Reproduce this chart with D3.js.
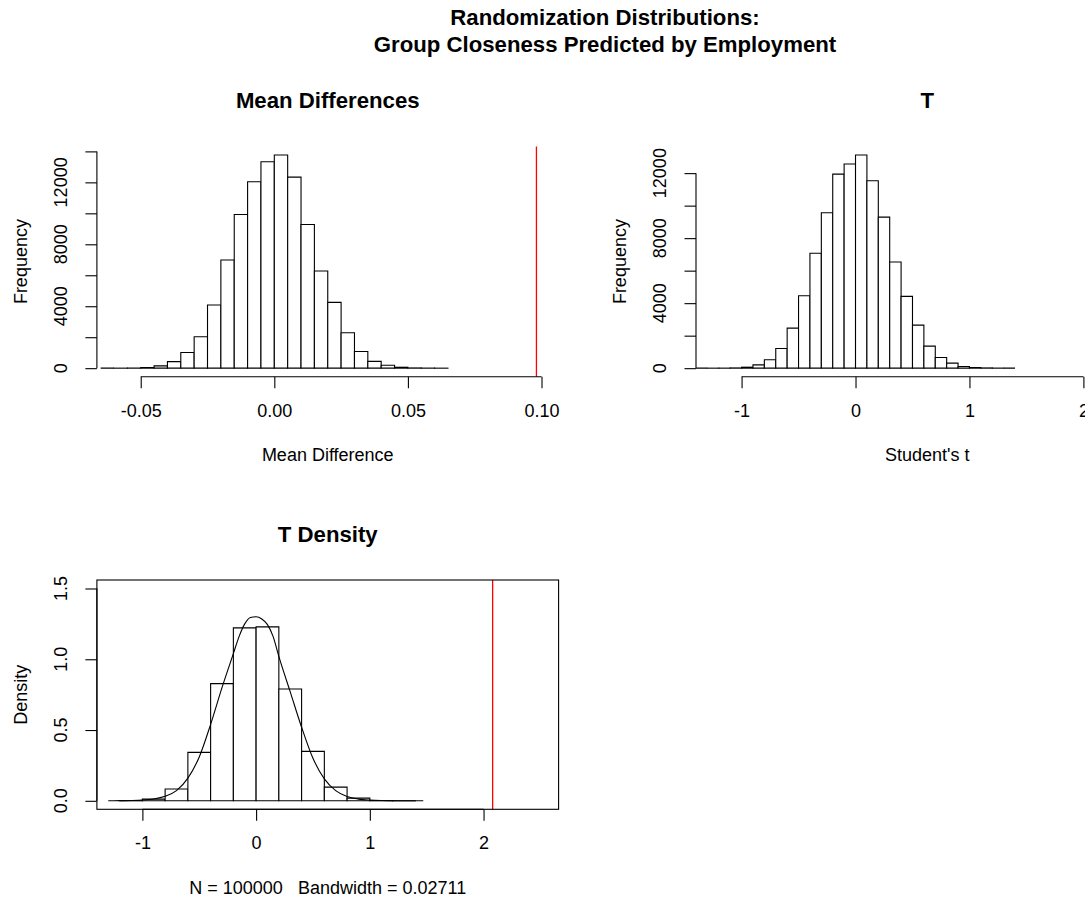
<!DOCTYPE html>
<html>
<head>
<meta charset="utf-8">
<script src="https://cdn.jsdelivr.net/npm/d3@7"></script>
<style>
  body { margin: 0; background: #fff; }
  text { font-family: "Liberation Sans", Arial, Helvetica, sans-serif; fill: #000; }
</style>
</head>
<body>
<div id="canvas"></div>
<script>
// ---- data ----
var mainTitle = ['Randomization Distributions:', 'Group Closeness Predicted by Employment'];

// panel 1: mean differences, bins of 0.005
var mdBreaks = [-0.065,-0.06,-0.055,-0.05,-0.045,-0.04,-0.035,-0.03,-0.025,-0.02,-0.015,-0.01,-0.005,
                0,0.005,0.01,0.015,0.02,0.025,0.03,0.035,0.04,0.045,0.05,0.055,0.06,0.065];
var mdCounts = [0,2,8,40,150,420,1014,2028,4078,6990,9924,12039,13333,
                13765,12341,9277,6278,4250,2287,1079,440,190,60,15,5,1];
var mdObserved = 0.0981;
var mdXTicks = [-0.05, 0, 0.05, 0.10];
var mdYTicks = [0,2000,4000,6000,8000,10000,12000,14000];
var mdYLabels = [0,4000,8000,12000];

// panel 2: t statistic, bins of 0.1
var tBreaks = [-1.4,-1.3,-1.2,-1.1,-1.0,-0.9,-0.8,-0.7,-0.6,-0.5,-0.4,-0.3,-0.2,-0.1,
               0,0.1,0.2,0.3,0.4,0.5,0.6,0.7,0.8,0.9,1.0,1.1,1.2,1.3,1.4];
var tCounts = [0,1,3,15,60,200,514,1213,2467,4460,7071,9558,11942,12559,
               13114,11531,9291,6536,4419,2651,1357,658,308,103,40,15,5,0];
var tObserved = 2.08;
var tXTicks = [-1, 0, 1, 2];
var tYTicks = [0,2000,4000,6000,8000,10000,12000];
var tYLabels = [0,4000,8000,12000];

// panel 3: t density, bins of 0.2 plus kernel density curve
var tdBreaks = [-1.2,-1.0,-0.8,-0.6,-0.4,-0.2,0,0.2,0.4,0.6,0.8,1.0,1.2,1.4];
var tdDens = [0.001,0.012,0.083,0.342,0.828,1.222,1.229,0.790,0.349,0.097,0.019,0.002,0.0003];
var kdX = [-1.3,-1.2,-1.1,-1.0,-0.9,-0.8,-0.7,-0.6,-0.5,-0.4,-0.3,-0.2,-0.15,-0.1,-0.05,0,
           0.05,0.1,0.15,0.2,0.3,0.4,0.5,0.6,0.7,0.8,0.9,1.0,1.1,1.2,1.3,1.4,1.47];
var kdY = [0,0.001,0.002,0.005,0.013,0.032,0.072,0.16,0.31,0.54,0.80,1.04,1.16,1.25,1.295,1.30,
           1.285,1.245,1.16,1.02,0.77,0.52,0.30,0.155,0.072,0.03,0.012,0.005,0.002,0.001,0,0,0];
var tdYTicks = [0, 0.5, 1.0, 1.5];

// ---- page ----
var W = 1085, H = 898;
var svg = d3.select('#canvas').append('svg')
  .attr('width', W)
  .attr('height', H);
svg.append('rect').attr('width', W).attr('height', H).attr('fill', '#fff');

var LW = 1.1;
var tickLen = 11.5;
var titleSize = '22.2px';

// plain hyphen minus like R, not the unicode one d3 uses
function fmtR(spec) {
  var f = d3.format(spec);
  return function(d) { return f(d).replace('\u2212', '-'); };
}

svg.selectAll('.main-title')
  .data(mainTitle)
  .enter().append('text')
  .attr('x', 605)
  .attr('y', function(d, i) { return 25 + i * 27; })
  .attr('text-anchor', 'middle')
  .style('font-size', titleSize)
  .style('font-weight', 'bold')
  .text(function(d) { return d; });

// x axis the R way: line from first to last tick, ticks downward
function xAxis(x, yPos, ticks, fmt) {
  var g = svg.append('g').attr('transform', 'translate(0,' + yPos + ')');
  g.call(d3.axisBottom(x).tickValues(ticks).tickSize(tickLen).tickPadding(15.7).tickFormat(fmt));
  g.select('.domain').remove();
  g.selectAll('line').attr('stroke-width', LW);
  g.selectAll('text').style('font-size', '18px');
  g.attr('font-family', null).attr('font-size', null);
  g.append('line')
    .attr('x1', x(ticks[0])).attr('x2', x(ticks[ticks.length - 1]))
    .attr('stroke', '#000').attr('stroke-width', LW);
}

function yAxis(y, xPos, ticks, labels, fmt) {
  var g = svg.append('g').attr('transform', 'translate(' + xPos + ',0)');
  g.call(d3.axisLeft(y).tickValues(ticks).tickSize(tickLen).tickFormat(''));
  g.select('.domain').remove();
  g.selectAll('line').attr('stroke-width', LW);
  g.append('line')
    .attr('y1', y(ticks[0])).attr('y2', y(ticks[ticks.length - 1]))
    .attr('stroke', '#000').attr('stroke-width', LW);
  g.selectAll('.ylab')
    .data(labels)
    .enter().append('text')
    .attr('transform', function(d) { return 'translate(-29.7,' + y(d) + ') rotate(-90)'; })
    .attr('text-anchor', 'middle')
    .style('font-size', '18px')
    .text(fmt);
}

function bars(x, y, breaks, vals) {
  svg.append('g').selectAll('path')
    .data(vals)
    .enter().append('path')
    .attr('d', function(d, i) {
      var x0 = x(breaks[i]), x1 = x(breaks[i + 1]), y0 = y(0), y1 = y(d);
      return 'M' + x0 + ',' + y0 + 'V' + y1 + 'H' + x1 + 'V' + y0 + 'Z';
    })
    .attr('fill', '#fff')
    .attr('stroke', '#000')
    .attr('stroke-width', LW);
}

function label(txt, xPos, yPos, opts) {
  var t = svg.append('text')
    .attr('text-anchor', 'middle')
    .style('font-size', opts && opts.bold ? titleSize : '18px')
    .style('font-weight', opts && opts.bold ? 'bold' : 'normal')
    .style('white-space', 'pre')
    .text(txt);
  if (opts && opts.rotate) {
    t.attr('transform', 'translate(' + xPos + ',' + yPos + ') rotate(-90)');
  } else {
    t.attr('x', xPos).attr('y', yPos);
  }
  return t;
}

// ---- panel 1 : Mean Differences ----
var p1 = {l: 96.9, r: 558.6, t: 146.5, b: 376.7};
var x1 = d3.scaleLinear().domain([-0.0664, 0.1064]).range([p1.l, p1.r]);
var m1 = d3.max(mdCounts);
var y1 = d3.scaleLinear().domain([-0.04 * m1, 1.04 * m1]).range([p1.b, p1.t]);

bars(x1, y1, mdBreaks, mdCounts);
svg.append('line')
  .attr('x1', x1(mdObserved)).attr('x2', x1(mdObserved))
  .attr('y1', p1.t).attr('y2', p1.b)
  .attr('stroke', '#ff0000').attr('stroke-width', 1.3);
xAxis(x1, p1.b, mdXTicks, fmtR('.2f'));
yAxis(y1, p1.l, mdYTicks, mdYLabels, function(d) { return d; });
label('Mean Differences', (p1.l + p1.r) / 2, 108, {bold: true});
label('Mean Difference', (p1.l + p1.r) / 2, 461);
label('Frequency', p1.l - 70.2, (p1.t + p1.b) / 2, {rotate: true});

// ---- panel 2 : T ----
var p2 = {l: 696, r: 1158.6, t: 146.5, b: 376.7};
var x2 = d3.scaleLinear().domain([-1.4, 2.66]).range([p2.l, p2.r]);
var m2 = d3.max(tCounts);
var y2 = d3.scaleLinear().domain([-0.04 * m2, 1.04 * m2]).range([p2.b, p2.t]);

bars(x2, y2, tBreaks, tCounts);
svg.append('line')
  .attr('x1', x2(tObserved)).attr('x2', x2(tObserved))
  .attr('y1', p2.t).attr('y2', p2.b)
  .attr('stroke', '#ff0000').attr('stroke-width', 1.3);
xAxis(x2, p2.b, tXTicks, fmtR('d'));
yAxis(y2, p2.l, tYTicks, tYLabels, function(d) { return d; });
label('T', (p2.l + p2.r) / 2, 108, {bold: true});
label("Student's t", (p2.l + p2.r) / 2, 461);
label('Frequency', p2.l - 70.2, (p2.t + p2.b) / 2, {rotate: true});

// ---- panel 3 : T Density ----
var p3 = {l: 96.9, r: 558.6, t: 580, b: 809.3};
var x3 = d3.scaleLinear().domain([-1.4, 2.66]).range([p3.l, p3.r]);
var y3 = d3.scaleLinear().domain([-0.06, 1.56]).range([p3.b, p3.t]);

bars(x3, y3, tdBreaks, tdDens);
var kd = kdX.map(function(d, i) { return [d, kdY[i]]; });
svg.append('path')
  .datum(kd)
  .attr('d', d3.line()
    .x(function(d) { return x3(d[0]); })
    .y(function(d) { return y3(d[1]); })
    .curve(d3.curveMonotoneX))
  .attr('fill', 'none')
  .attr('stroke', '#000')
  .attr('stroke-width', LW);
svg.append('line')
  .attr('x1', x3(tObserved)).attr('x2', x3(tObserved))
  .attr('y1', p3.t).attr('y2', p3.b)
  .attr('stroke', '#ff0000').attr('stroke-width', 1.3);
svg.append('rect')
  .attr('x', p3.l).attr('y', p3.t)
  .attr('width', p3.r - p3.l).attr('height', p3.b - p3.t)
  .attr('fill', 'none').attr('stroke', '#000').attr('stroke-width', LW);
xAxis(x3, p3.b, tXTicks, fmtR('d'));
yAxis(y3, p3.l, tdYTicks, tdYTicks, d3.format('.1f'));
label('T Density', (p3.l + p3.r) / 2, 541.5, {bold: true});
label('N = 100000   Bandwidth = 0.02711', (p3.l + p3.r) / 2, 894);
label('Density', p3.l - 70.2, (p3.t + p3.b) / 2, {rotate: true});
</script>
</body>
</html>
